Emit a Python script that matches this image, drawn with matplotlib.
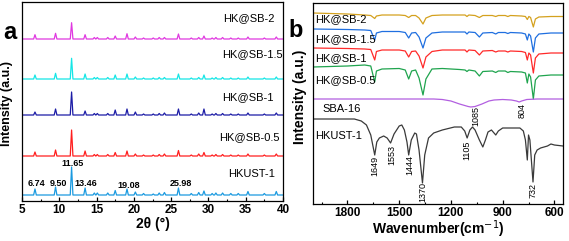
import numpy as np
import matplotlib
matplotlib.use('Agg')
import matplotlib.pyplot as plt

plt.rcParams['font.family'] = ['Liberation Sans', 'DejaVu Sans']

# ---------------- XRD data (panel a) ----------------
xrd_peaks = [6.74, 9.50, 11.65, 13.46, 14.7, 15.1, 16.5, 17.5, 19.08, 20.2, 21.3, 22.6, 23.4,
             24.1, 25.98, 27.7, 28.7, 29.4, 30.5, 31.0, 31.9, 33.0, 34.0, 35.3, 37.5, 39.1]
h_hkust = [6, 8, 28, 7, 2, 2, 2, 4.5, 6, 3, 1.5, 1, 2, 2.5, 7, 1.5, 2.5, 4, 1.5, 2, 2, 1.5, 1.5, 3.5, 1.5, 3.5]
h_sb05 = [4, 6, 26, 5, 1.5, 1.5, 1.5, 3.5, 5, 2, 1, 1, 1.5, 2, 5.5, 1, 2, 3.5, 1, 1.5, 1.5, 1, 1, 2, 1, 2]
h_sb1 = [3, 6, 23, 4, 1.5, 1.5, 1.5, 5, 6, 3, 1, 1, 1.5, 2, 6, 1, 2, 6, 1, 1.5, 1.5, 1, 1, 2, 1, 2]
h_sb15 = [4, 5.7, 20.7, 5, 1.5, 1.5, 1.5, 4, 5, 2, 1, 1, 1.5, 1.5, 5, 1, 1.5, 4, 1, 1.5, 1.5, 1, 1, 2, 1, 2]
h_sb2 = [4.3, 5.7, 16.3, 4.3, 1.5, 1.5, 1.5, 3, 5.3, 2, 1, 1, 1.5, 1.5, 5, 1, 1.5, 3, 1, 1.5, 1.5, 1, 1, 2, 1, 2]

xrd_names = ['HKUST-1', 'HK@SB-0.5', 'HK@SB-1', 'HK@SB-1.5', 'HK@SB-2']
xrd_heights = [h_hkust, h_sb05, h_sb1, h_sb15, h_sb2]
xrd_offsets = [6, 45, 86, 122, 162]
xrd_colors = ['#1b9ae0', '#ff1e1e', '#1c1ca6', '#14e6e6', '#e038e0']
xrd_lab_pos = [(38.9, 27), (39.6, 64), (38.7, 104), (39.9, 147), (38.9, 183)]

peak_labels = ['6.74', '9.50', '11.65', '13.46', '19.08', '25.98']
peak_lab_pos = [(6.9, 17), (9.87, 17), (11.84, 37), (13.58, 17), (19.35, 15.5), (26.3, 17)]

# ---------------- FTIR data (panel b) ----------------
hk_wn = [2000, 1760, 1720, 1690, 1665, 1642, 1630, 1615, 1590, 1570, 1550, 1530, 1500, 1485,
         1470, 1455, 1445, 1430, 1410, 1400, 1385, 1365, 1352, 1330, 1300, 1250, 1180, 1140,
         1120, 1106, 1090, 1075, 1060, 1035, 1015, 1000, 985, 965, 950, 940, 925, 900, 800,
         780, 768, 757, 750, 742, 724, 714, 700, 680, 640, 620, 600, 550]
hk_y = [85, 85, 83, 79, 69, 49, 62, 66, 68, 66, 61, 70, 78, 79,
        74, 62, 49, 64, 71, 70, 54, 21, 49, 66, 71, 74, 77, 77,
        73, 66, 74, 77, 74, 64, 57, 64, 72, 74, 71, 69, 73, 76, 76,
        73, 64, 44, 69, 64, 22, 49, 54, 56, 58, 60, 59, 58]

comp_wn = [2000, 1800, 1700, 1665, 1642, 1632, 1600, 1500, 1465, 1445, 1428, 1405, 1385, 1362,
           1345, 1310, 1250, 1150, 1118, 1107, 1096, 1060, 1035, 1015, 960, 940, 925, 885, 870,
           855, 790, 768, 757, 748, 738, 722, 710, 690, 620, 550]
sb2_y = [191, 190, 189, 188.5, 185.5, 188, 189, 189, 188.5, 186.5, 188.5, 188.5, 186, 180,
         186, 188.5, 189, 189, 189, 187.5, 189, 188.5, 186.5, 188.5, 188.5, 187.5, 188.5, 188.5, 187.5,
         188.5, 188, 187.5, 184.5, 187.5, 186.5, 177, 185, 187, 187.5, 187.5]
sb15_y = [175, 174.5, 174, 173.5, 164, 171, 172.5, 172.5, 171.5, 166, 171, 171.5, 167, 156,
          166, 171, 172, 172, 172, 170, 172, 171.5, 167, 171, 171.5, 170, 171.5, 171.5, 170.5,
          171.5, 171, 170, 164, 170, 168, 152, 166, 170, 171, 171]
sb1_y = [156, 155.5, 155, 154.5, 144, 152.5, 154, 154, 153, 147, 152.5, 153, 148, 136,
         147, 152.5, 154, 154, 154, 152, 154, 153.5, 149, 153, 153.5, 152, 153, 153, 152,
         153, 152.5, 151.5, 144, 151, 149, 131, 146, 150, 151, 151]
sb05_y = [137, 138, 139, 138, 122, 133, 135, 135.5, 134, 125, 133, 134, 126, 109,
          125, 135, 135.5, 134.5, 134, 132.5, 134, 133, 128, 132.5, 133, 131.5, 133, 133, 131.5,
          132.5, 132, 131, 121, 130, 127, 105, 124, 128, 129, 129]

sba_wn = [2000, 1300, 1250, 1200, 1150, 1100, 1085, 1060, 1020, 980, 950, 900, 850, 820, 804,
          790, 760, 700, 550]
sba_y = [105, 105, 104.5, 103, 100, 97.5, 97, 97.5, 100, 103, 104, 104.5, 104, 103, 102,
         103, 104.5, 105, 105]

ftir_series = [(comp_wn, sb2_y, '#d4a11e', 'HK@SB-2', (1986, 185)),
               (comp_wn, sb15_y, '#1f6fe0', 'HK@SB-1.5', (1990, 165)),
               (comp_wn, sb1_y, '#ff2a2a', 'HK@SB-1', (1986, 146)),
               (comp_wn, sb05_y, '#1fa44e', 'HK@SB-0.5', (1990, 123.5)),
               (sba_wn, sba_y, '#b25fe0', 'SBA-16', (1946, 95)),
               (hk_wn, hk_y, '#3a3a3a', 'HKUST-1', (1986, 68))]

band_labels = ['1649', '1553', '1444', '1370', '1105', '1085', '804', '732']
band_lab_pos = [(1642, 38), (1540, 49), (1439, 39), (1363, 12), (1106, 54), (1058, 88),
                (785, 94), (722, 13)]

# ---------------- figure ----------------
fig = plt.figure(figsize=(5.69, 2.41), dpi=100)
ax1 = fig.add_axes([22 / 569, 1 - 201 / 241, 261 / 569, 199 / 241])
ax2 = fig.add_axes([313 / 569, 1 - 204 / 241, 250 / 569, 201 / 241])

hw = 0.18
for name, hts, off, col, (lx, ly) in zip(xrd_names, xrd_heights, xrd_offsets, xrd_colors, xrd_lab_pos):
    xs = [5]
    ys = [off]
    for p, h in zip(xrd_peaks, hts):
        xs += [p - hw, p, p + hw]
        ys += [off, off + h, off]
    xs.append(40)
    ys.append(off)
    ax1.plot(xs, ys, color=col, lw=0.9)
    ax1.text(lx, ly, name, ha='right', va='center', fontsize=8)

for lab, (lx, ly) in zip(peak_labels, peak_lab_pos):
    ax1.text(lx, ly, lab, ha='center', va='center', fontsize=6.5, fontweight='bold')

ax1.set_xlim(5, 40)
ax1.set_ylim(0, 199)
ax1.set_xticks([5, 10, 15, 20, 25, 30, 35, 40])
ax1.set_xticks(np.arange(7.5, 40, 5), minor=True)
ax1.set_yticks([])
ax1.set_xlabel('2θ (°)', fontsize=10, fontweight='bold', labelpad=1)

for wn, yv, col, name, (lx, ly) in ftir_series:
    ax2.plot(wn, yv, color=col, lw=0.9)
    ax2.text(lx, ly, name, ha='left', va='center', fontsize=8)

for lab, (lx, ly) in zip(band_labels, band_lab_pos):
    ax2.text(lx, ly, lab, ha='center', va='center', rotation=90, fontsize=6.5)

ax2.set_xlim(2000, 550)
ax2.set_ylim(0, 201)
ax2.set_xticks([1800, 1500, 1200, 900, 600])
ax2.set_xticks([1950, 1650, 1350, 1050, 750], minor=True)
ax2.set_yticks([])
ax2.set_xlabel('Wavenumber(cm$^{-1}$)', fontsize=10, fontweight='bold', labelpad=0)

for ax in (ax1, ax2):
    for s in ax.spines.values():
        s.set_linewidth(0.9)
    ax.tick_params(axis='x', which='major', direction='in', length=3, width=0.9,
                   labelsize=8.5, pad=2)
    ax.tick_params(axis='x', which='minor', direction='in', length=1.8, width=0.8)
    for t in ax.get_xticklabels():
        t.set_fontweight('bold')

fig.text(7.5 / 569, 1 - 103 / 241, 'Intensity (a.u.)', rotation=90, ha='center', va='center',
         fontsize=9, fontweight='bold')
fig.text(300 / 569, 1 - 97 / 241, 'Intensity (a.u.)', rotation=90, ha='center', va='center',
         fontsize=10, fontweight='bold')
fig.text(3 / 569, 1 - 39 / 241, 'a', fontsize=17, fontweight='bold', ha='left', va='baseline')
fig.text(288 / 569, 1 - 37 / 241, 'b', fontsize=17, fontweight='bold', ha='left', va='baseline')

fig.savefig('out.png', dpi=100)
